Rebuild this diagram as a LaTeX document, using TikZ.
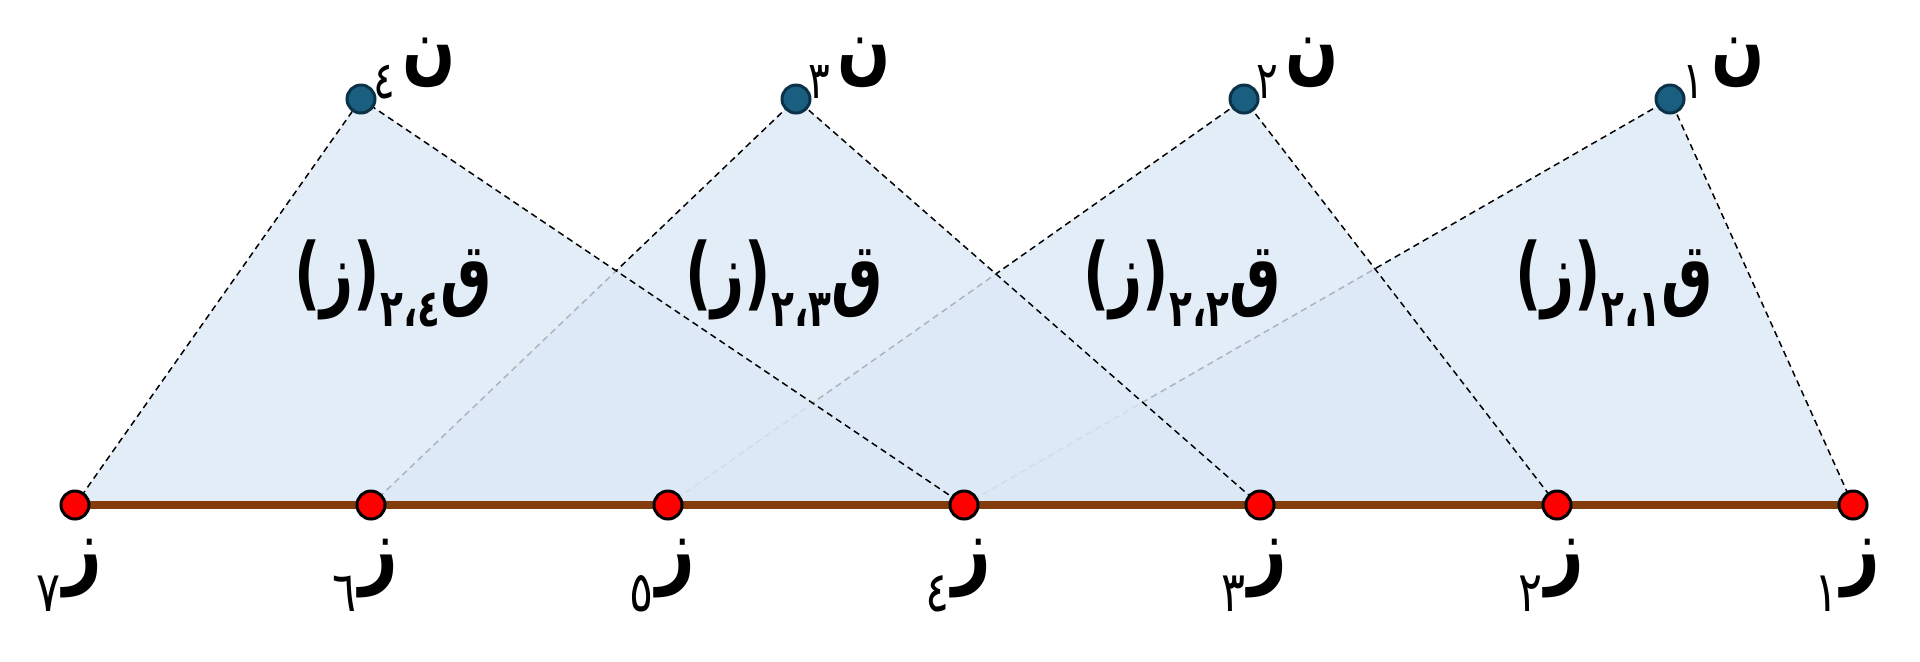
\documentclass[tikz,border=0pt]{standalone}
\usepackage{fontspec}
\usetikzlibrary{calc}
\TeXXeTstate=1
\newfontfamily\arabicfont[Script=Arabic]{DejaVu Sans}
\definecolor{basebrown}{RGB}{132,60,12}
\definecolor{trifill}{RGB}{219,232,246}
\definecolor{apexfill}{RGB}{26,94,128}
\definecolor{apexline}{RGB}{12,50,72}
\newcommand{\zlab}[1]{\scalebox{0.8}[1]{\arabicfont\bfseries\fontsize{42}{42}\selectfont\beginR ز\kern2pt\raisebox{-17pt}{\mdseries\fontsize{28}{28}\selectfont #1}\endR}}
\newcommand{\nlab}[1]{\scalebox{0.78}[1]{\arabicfont\bfseries\fontsize{40}{40}\selectfont\beginR ن\kern4.5pt\raisebox{-12pt}{\mdseries\fontsize{26}{26}\selectfont #1}\endR}}
\newcommand{\qlab}[1]{\scalebox{0.72}[1]{\arabicfont\bfseries\fontsize{40}{40}\selectfont\beginR ق\raisebox{-13pt}{\fontsize{26}{26}\selectfont #1}(ز)\endR}}
\tikzset{
  basedot/.style={circle,draw=black,fill=red,line width=1.5pt,minimum size=14pt,inner sep=0pt},
  apexdot/.style={circle,draw=apexline,fill=apexfill,line width=1.5pt,minimum size=14pt,inner sep=0pt},
  leg/.style={draw=black,line width=0.75pt,dash pattern=on 3.2pt off 2.2pt},
  trishade/.style={fill=trifill,fill opacity=0.78},
  baseline/.style={draw=basebrown,line width=4pt},
  lab/.style={inner sep=0pt,text=black,anchor=base}
}
\begin{document}
\begin{tikzpicture}[x=0.5pt,y=-0.5pt]
\useasboundingbox (0,0) rectangle (1920,661);
% point coordinates
\coordinate (p1) at (1853,505);
\coordinate (p2) at (1557,505);
\coordinate (p3) at (1260,505);
\coordinate (p4) at (964,505);
\coordinate (p5) at (668,505);
\coordinate (p6) at (371,505);
\coordinate (p7) at (75,505);
\coordinate (a1) at (1670,99);
\coordinate (a2) at (1244,99);
\coordinate (a3) at (796,99);
\coordinate (a4) at (361,99);
% triangles, drawn in order so later fills veil earlier legs
\path[trishade] (a1) -- (p4) -- (p1) -- cycle;
\draw[leg] (p4) -- (a1) -- (p1);
\path[trishade] (a2) -- (p5) -- (p2) -- cycle;
\draw[leg] (p5) -- (a2) -- (p2);
\path[trishade] (a3) -- (p6) -- (p3) -- cycle;
\draw[leg] (p6) -- (a3) -- (p3);
\path[trishade] (a4) -- (p7) -- (p4) -- cycle;
\draw[leg] (p7) -- (a4) -- (p4);
% base line
\draw[baseline] (p7) -- (p1);
% dots
\node[basedot] (z1) at (p1) {};
\node[basedot] (z2) at (p2) {};
\node[basedot] (z3) at (p3) {};
\node[basedot] (z4) at (p4) {};
\node[basedot] (z5) at (p5) {};
\node[basedot] (z6) at (p6) {};
\node[basedot] (z7) at (p7) {};
\node[apexdot] (n1) at (a1) {};
\node[apexdot] (n2) at (a2) {};
\node[apexdot] (n3) at (a3) {};
\node[apexdot] (n4) at (a4) {};
% base labels
\node[lab] (lz1) at ($(z1)+(-6,72)$) {\zlab{١}};
\node[lab] (lz2) at ($(z2)+(-6,72)$) {\zlab{٢}};
\node[lab] (lz3) at ($(z3)+(-6,72)$) {\zlab{٣}};
\node[lab] (lz4) at ($(z4)+(-6,72)$) {\zlab{٤}};
\node[lab] (lz5) at ($(z5)+(-6,72)$) {\zlab{٥}};
\node[lab] (lz6) at ($(z6)+(-6,72)$) {\zlab{٦}};
\node[lab] (lz7) at ($(z7)+(-6,72)$) {\zlab{٧}};
% apex labels
\node[lab] (ln1) at ($(n1)+(54,-25)$) {\nlab{١}};
\node[lab] (ln2) at ($(n2)+(54,-25)$) {\nlab{٢}};
\node[lab] (ln3) at ($(n3)+(54,-25)$) {\nlab{٣}};
\node[lab] (ln4) at ($(n4)+(54,-25)$) {\nlab{٤}};
% triangle labels
\node[lab] (q1) at (1614,300) {\qlab{٢،١}};
\node[lab] (q2) at (1182,300) {\qlab{٢،٢}};
\node[lab] (q3) at (784,300) {\qlab{٢،٣}};
\node[lab] (q4) at (393,300) {\qlab{٢،٤}};
\end{tikzpicture}
\end{document}
